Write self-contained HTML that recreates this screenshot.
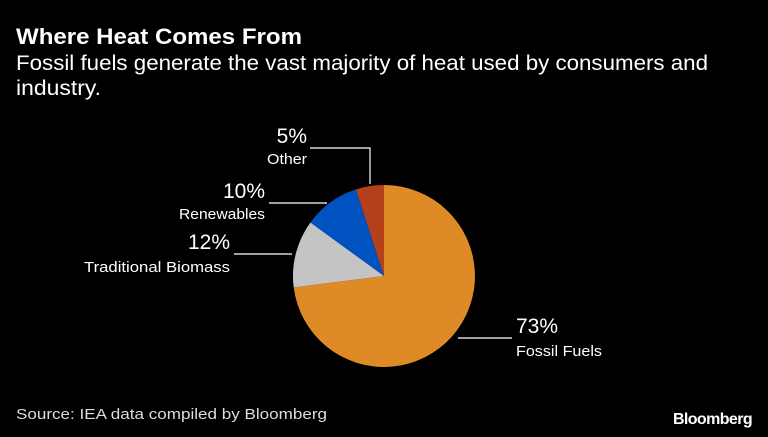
<!DOCTYPE html>
<html><head><style>
body{margin:0;background:#000;width:768px;height:437px;overflow:hidden;font-family:"Liberation Sans",sans-serif;color:#fff}
</style></head><body>
<svg width="768" height="437" xmlns="http://www.w3.org/2000/svg" style="position:absolute;left:0;top:0">
<text x="16" y="44" font-size="22" font-weight="bold" fill="#fff" textLength="286" lengthAdjust="spacingAndGlyphs">Where Heat Comes From</text>
<text x="16" y="70" font-size="21" fill="#fff" textLength="692" lengthAdjust="spacingAndGlyphs">Fossil fuels generate the vast majority of heat used by consumers and</text>
<text x="16" y="95" font-size="21" fill="#fff" textLength="85" lengthAdjust="spacingAndGlyphs">industry.</text>
<path d="M384,276 L384,185 A91,91 0 1 1 293.7,287.4 Z" fill="#de8a26"/>
<path d="M384,276 L293.7,287.4 A91,91 0 0 1 310.4,222.5 Z" fill="#c4c4c4"/>
<path d="M384,276 L310.4,222.5 A91,91 0 0 1 355.9,189.4 Z" fill="#0052c0"/>
<path d="M384,276 L355.9,189.4 A91,91 0 0 1 384,185 Z" fill="#b5401c"/>
<g stroke="#fff" stroke-width="1.2" fill="none">
<polyline points="310,148 370,148 370,184"/>
<line x1="269" y1="203" x2="327" y2="203"/>
<line x1="234" y1="254" x2="292" y2="254"/>
<line x1="458" y1="338" x2="512" y2="338"/>
</g>
<g fill="#fff" text-anchor="end">
<text x="307" y="143" font-size="21">5%</text>
<text x="307" y="164" font-size="15" textLength="40" lengthAdjust="spacingAndGlyphs">Other</text>
<text x="265" y="198" font-size="21">10%</text>
<text x="265" y="219" font-size="15" textLength="86" lengthAdjust="spacingAndGlyphs">Renewables</text>
<text x="230" y="249" font-size="21">12%</text>
<text x="230" y="272" font-size="15" textLength="146" lengthAdjust="spacingAndGlyphs">Traditional Biomass</text>
</g>
<text x="516" y="333" font-size="21" fill="#fff">73%</text>
<text x="516" y="356" font-size="15" fill="#fff" textLength="86" lengthAdjust="spacingAndGlyphs">Fossil Fuels</text>
<text x="16" y="419" font-size="15" fill="#ddd" textLength="311" lengthAdjust="spacingAndGlyphs">Source: IEA data compiled by Bloomberg</text>
<text x="752" y="424" font-size="16" font-weight="bold" fill="#fff" text-anchor="end" letter-spacing="-0.6">Bloomberg</text>
</svg>
</body></html>
